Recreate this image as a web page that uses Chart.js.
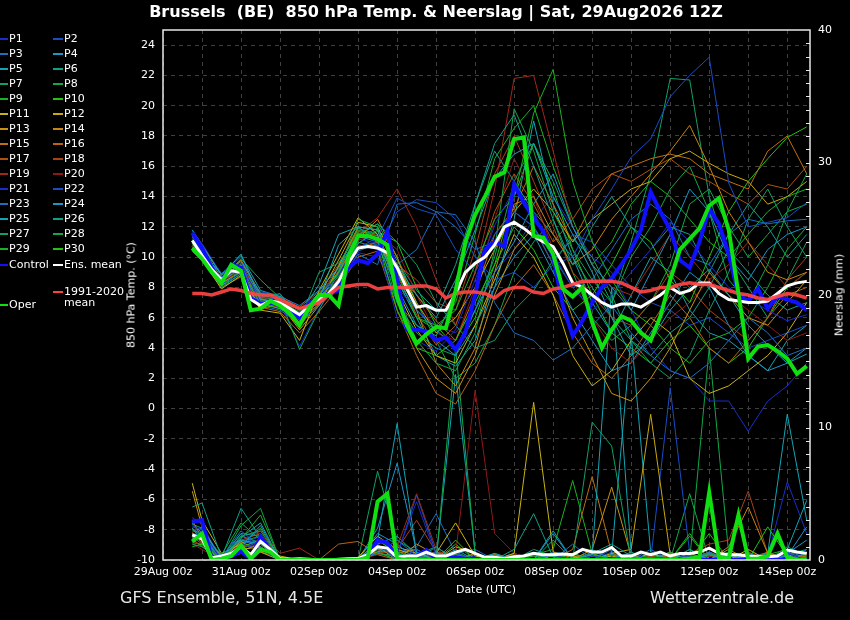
<!DOCTYPE html>
<html>
<head>
<meta charset="utf-8">
<title>Brussels 850 hPa Temp. & Neerslag</title>
<style>
  body { margin: 0; background: #000; width: 850px; height: 620px; overflow: hidden;
         font-family: "DejaVu Sans", sans-serif; color: #fff; }
  #wrap { position: relative; width: 850px; height: 620px; }
  #chart { position: absolute; left: 0; top: 0; }
  .txt { position: absolute; white-space: pre; }
  #title { left: 0; width: 872px; top: 2px; text-align: center; font-weight: bold; font-size: 16px; }
  .foot { top: 588px; font-size: 16px; color: #e8e8e8; }
  .axt { font-size: 11px; transform: translate(-50%, -50%) rotate(-90deg); }
  #xtitle { left: 486px; top: 589px; font-size: 11px; transform: translate(-50%, -50%); }
  .leg { position: absolute; height: 12px; line-height: 12px; font-size: 11px; white-space: pre; }
  .leg i { position: absolute; top: 5px; height: 2px; }
</style>
<script src="https://cdn.jsdelivr.net/npm/chart.js@4.4.1/dist/chart.umd.min.js"></script>
</head>
<body>
<div id="wrap">
  <canvas id="chart" width="850" height="620"></canvas>
  <div id="title" class="txt">Brussels  (BE)  850 hPa Temp. &amp; Neerslag | Sat, 29Aug2026 12Z</div>
  <div class="txt axt" style="left:131px;top:295px">850 hPa Temp. (°C)</div>
  <div class="txt axt" style="left:839px;top:295px">Neerslag (mm)</div>
  <div id="xtitle" class="txt">Date (UTC)</div>
  <div class="txt foot" style="left:120px">GFS Ensemble, 51N, 4.5E</div>
  <div class="txt foot" style="left:650px">Wetterzentrale.de</div>
  <div id="legend"></div>
</div>
<script>
// hours since 29Aug 00z
const hours6 = [18,
  24, 30, 36, 42, 48, 54, 60, 66, 72, 78, 84, 90, 96, 102, 108, 114,
  120, 126, 132, 138, 144, 150, 156, 162, 168, 174, 180, 186, 192, 198, 204, 210,
  216, 222, 228, 234, 240, 246, 252, 258, 264, 270, 276, 282, 288, 294, 300, 306,
  312, 318, 324, 330, 336, 342, 348, 354, 360, 366, 372, 378, 384, 390, 396];
const hours12 = [18, 24, 36, 48, 60, 72, 84, 96, 108, 120, 132, 144, 156, 168, 180, 192, 204,
  216, 228, 240, 252, 264, 276, 288, 300, 312, 324, 336, 348, 360, 372, 384, 396];

const xTicks = [0, 24, 48, 72, 96, 120, 144, 168, 192, 216, 240, 264, 288, 312, 336, 360, 384];
const xLabels = ['29Aug 00z', '', '31Aug 00z', '', '02Sep 00z', '', '04Sep 00z', '', '06Sep 00z', '',
  '08Sep 00z', '', '10Sep 00z', '', '12Sep 00z', '', '14Sep 00z'];
const tempTicks = [-10, -8, -6, -4, -2, 0, 2, 4, 6, 8, 10, 12, 14, 16, 18, 20, 22, 24];
const rainTicks = [0, 10, 20, 30, 40];

// main lines, 6-hourly
const controlTemp = [11.6,
  10.6, 9.3, 8.4, 9.5,   9.3, 7.3, 6.9, 7.0,   6.8, 6.4, 6.0, 7.0,   7.3, 7.6, 7.8, 9.3,
  9.8, 9.6, 10.2, 11.7,  8.5, 5.2, 5.2, 5.1,   4.5, 4.7, 3.9, 5.0,   7.5, 10.5, 11.0, 10.7,
  14.8, 13.6, 12.6, 11.7, 10.0, 6.8, 4.8, 5.8, 7.0, 8.0, 8.6, 9.5,   10.5, 11.8, 14.3, 13.0,
  11.8, 9.8, 9.3, 11.0,  13.2, 12.2, 10.2, 7.5, 7.1, 7.9, 6.6, 7.4,  7.2, 7.0, 6.5];
const meanTemp = [11.1,
  10.1, 9.2, 8.5, 9.1,   9.0, 7.2, 6.8, 7.1,   7.0, 6.6, 6.2, 6.8,   7.2, 7.6, 8.4, 9.6,
  10.6, 10.7, 10.6, 10.3, 9.3, 7.9, 6.7, 6.8,  6.5, 6.5, 7.6, 9.0,   9.6, 10.0, 10.8, 12.0,
  12.3, 11.9, 11.4, 11.0, 10.7, 9.6, 8.3, 8.0, 7.5, 7.0, 6.7, 6.9,   6.9, 6.7, 7.1, 7.5,
  8.0, 7.6, 7.8, 8.3,    8.3, 7.6, 7.2, 7.1,   7.0, 7.0, 7.1, 7.6,   8.1, 8.3, 8.4];
const operTemp = [10.6,
  9.9, 9.0, 8.3, 9.5,    9.1, 6.5, 6.6, 7.1,   6.8, 6.3, 5.5, 6.7,   7.5, 7.5, 6.8, 10.0,
  11.4, 11.4, 11.2, 10.8, 7.4, 5.5, 4.3, 4.9,  5.4, 5.3, 7.8, 11.0,  12.8, 14.0, 15.3, 15.6,
  17.8, 17.9, 11.4, 11.3, 10.2, 7.9, 7.4, 8.0, 5.7, 4.0, 5.2, 6.1,   5.8, 5.0, 4.5, 6.1,
  8.5, 10.5, 11.2, 11.9, 13.4, 13.9, 11.8, 7.6, 3.3, 4.1, 4.2, 3.8,  3.3, 2.3, 2.8];
const climTemp = [7.6,
  7.6, 7.5, 7.7, 7.9,    7.8, 7.6, 7.5, 7.5,   7.2, 6.9, 6.6, 6.8,   7.0, 7.5, 8.0, 8.1,
  8.2, 8.2, 7.9, 8.0,    8.0, 8.0, 8.1, 8.1,   7.9, 7.3, 7.6, 7.7,   7.7, 7.6, 7.3, 7.8,
  8.0, 8.0, 7.7, 7.6,    7.9, 8.0, 8.2, 8.4,   8.4, 8.4, 8.4, 8.3,   8.0, 7.7, 7.8, 8.0,
  8.0, 8.2, 8.3, 8.2,    8.2, 8.0, 7.8, 7.6,   7.5, 7.3, 7.2, 7.4,   7.6, 7.5, 7.3];

const controlRain = [2.9,
  3.0, 0.05, 0.1, 0.3,   0.65, 0.1, 1.75, 0.75, 0, 0, 0, 0,        0, 0, 0, 0,
  0, 0.3, 1.5, 1.3,      0.15, 0.2, 0.3, 0.75, 0.1, 0.1, 0.2, 0.1,  0.1, 0, 0, 0.05,
  0, 0.05, 0, 0,         0, 0.05, 0, 0,        0, 0, 0.05, 0,       0, 0, 0, 0.05,
  0, 0, 0, 0,            0, 0.05, 0, 0,        0, 0, 0, 0,          0.05, 0, 0];
const meanRain = [1.9,
  1.6, 0.15, 0.3, 0.5,   1.0, 0.4, 1.4, 0.8,   0.1, 0.05, 0.1, 0.05, 0, 0, 0.05, 0.1,
  0.1, 0.4, 1.0, 0.9,    0.2, 0.3, 0.3, 0.6,   0.3, 0.3, 0.6, 0.8,   0.5, 0.2, 0.2, 0.1,
  0.25, 0.3, 0.5, 0.4,   0.4, 0.45, 0.4, 0.8,  0.6, 0.6, 0.95, 0.3,  0.3, 0.6, 0.4, 0.6,
  0.3, 0.5, 0.5, 0.6,    0.9, 0.5, 0.4, 0.4,   0.3, 0.25, 0.25, 0.3, 0.75, 0.6, 0.5];
const operRain = [1.4,
  2.0, 0, 0.1, 0.3,      1.1, 0.1, 0.8, 0.6,   0, 0, 0, 0,           0, 0, 0, 0,
  0, 0.2, 4.4, 5.0,      0.1, 0, 0, 0,         0, 0, 0, 0,           0, 0, 0, 0,
  0, 0, 0, 0,            0, 0, 0, 0,           0, 0, 0, 0,           0, 0, 0, 0,
  0, 0, 0.1, 0.2,        5.1, 0.2, 0.1, 3.4,   0.1, 0.1, 0.3, 2.0,   0.2, 0, 0];

// ensemble members, 12-hourly (hours12)
const tP1 = [11.2,10.4,8.3,9.6,7.0,6.9,6.3,7.4,8.8,11.2,10.9, 6.0,4.5,3.8,5.2,8.5,12.1,14.5,13.0,10.2,8.0,6.5, 7.5,9.0,10.5,12.3,11.0,9.5,8.0,7.2,6.5,5.8,6.2];
const tP2 = [10.8,10.0,8.6,9.2,7.4,7.2,6.5,7.0,8.5,10.6,11.3, 13.9,13.2,12.8,10.5,9.0,11.5,13.0,12.0,9.5,10.0,12.5, 14.5,16.6,17.8,20.6,22.0,23.2,14.9,12.0,12.3,12.6,13.6];
const tP3 = [11.5,10.5,8.2,9.0,6.8,6.5,5.6,6.8,8.2,10.2,9.5, 13.5,13.6,13.0,12.8,11.0,7.0,5.0,4.5,3.2,4.0,5.5, 6.8,5.0,3.5,2.5,2.0,3.0,4.5,6.0,5.0,3.5,4.0];
const tP4 = [10.6,10.2,8.9,9.7,7.6,7.4,6.8,7.8,9.3,11.4,11.0, 8.5,6.5,5.2,4.0,6.5,9.0,11.0,13.5,15.5,12.0,9.5, 8.0,6.5,9.0,11.5,14.5,13.0,10.0,8.5,10.5,11.5,12.0];
const tP5 = [11.8,10.8,8.8,10.2,7.2,7.0,6.0,7.2,10.8,12.0,11.8, 9.5,7.5,6.0,8.5,11.8,15.2,16.8,17.5,14.0,11.5,9.0, 6.0,3.5,4.5,6.5,8.0,9.2,7.5,5.5,4.2,3.0,3.6];
const tP6 = [11.0,10.3,8.4,9.4,7.1,6.9,6.1,7.3,8.9,11.0,10.6, 7.0,5.5,4.8,7.5,13.5,17.5,19.4,16.0,12.5,9.5,12.0, 14.0,12.0,10.5,12.0,11.5,9.0,11.5,13.5,12.0,10.0,11.5];
const tP7 = [10.5,9.9,8.0,8.9,7.3,7.6,5.8,9.0,9.6,11.5,12.2, 11.0,9.5,7.0,5.5,4.0,4.5,6.5,7.8,9.8,11.2,10.0, 7.5,4.5,3.0,2.0,3.5,6.5,9.0,12.5,14.5,12.0,10.0];
const tP8 = [11.3,10.7,8.5,9.9,8.5,7.3,3.9,6.5,9.0,12.5,12.0, 7.5,4.5,3.0,2.5,5.0,10.5,19.8,17.0,13.0,10.5,8.5, 7.0,10.0,12.0,14.5,16.0,13.0,8.5,7.0,9.5,13.0,15.5];
const tP9 = [10.9,10.1,8.7,9.3,7.5,7.0,6.4,7.6,8.7,10.9,11.8, 9.0,6.0,5.5,6.5,9.5,12.5,14.0,19.5,22.4,15.0,11.0, 8.5,6.5,5.5,4.0,3.0,4.5,5.0,6.0,8.0,10.5,12.0];
const tP10 = [11.1,10.5,8.1,9.1,6.9,6.6,5.9,7.1,9.1,11.6,11.2, 6.5,4.0,3.5,4.5,7.0,9.5,12.0,10.5,8.0,6.5,7.5, 9.5,12.0,11.0,8.5,7.0,10.0,13.0,15.0,16.5,17.9,18.6];
const tP11 = [10.4,9.8,7.9,8.8,6.5,6.3,4.5,7.8,10.2,12.6,11.5, 7.8,5.2,3.5,3.0,5.5,8.5,11.5,10.0,7.5,3.5,1.5, 2.5,4.5,6.0,5.0,2.0,1.0,1.5,2.5,3.5,5.0,7.0];
const tP12 = [11.4,10.6,8.6,9.5,7.0,6.8,6.0,7.4,9.8,12.3,12.0, 9.5,7.0,5.0,6.0,8.0,10.5,13.0,14.5,13.0,11.0,12.5, 13.5,14.5,15.0,16.5,17.0,16.2,15.5,15.0,13.5,14.0,15.0];
const tP13 = [10.7,10.0,8.3,9.0,6.6,6.9,5.2,6.8,9.4,12.0,11.8, 8.0,4.0,2.0,1.0,3.5,7.5,10.5,12.0,9.5,6.0,3.5, 1.0,0.5,2.0,4.0,6.5,9.0,7.5,6.0,5.5,7.0,8.5];
const tP14 = [11.0,10.2,8.4,9.3,7.2,7.0,6.6,7.2,9.0,11.2,12.5, 10.0,6.5,3.0,1.5,4.0,9.0,13.5,14.0,11.5,9.5,10.5, 12.5,14.0,15.5,17.0,18.7,16.0,13.0,11.0,9.0,8.5,9.0];
const tP15 = [11.6,10.8,8.8,9.8,7.6,7.1,5.5,6.9,8.4,10.5,11.0, 9.0,7.5,5.8,4.5,7.5,11.5,13.2,16.0,13.5,11.0,13.5, 15.5,16.0,16.5,16.8,16.5,15.5,15.0,14.5,17.0,18.0,15.5];
const tP16 = [10.5,9.8,8.0,8.7,6.7,6.4,5.0,6.4,8.0,10.0,10.4, 6.5,3.5,1.0,0.3,2.5,5.5,8.0,9.5,7.5,5.0,3.0, 2.0,3.5,5.5,7.5,6.0,4.0,3.0,4.5,6.0,7.5,8.0];
const tP17 = [11.2,10.4,8.5,9.6,7.3,7.3,6.7,7.7,9.5,11.7,11.4, 8.8,6.2,4.2,5.5,9.0,13.0,15.5,13.5,11.0,12.5,14.5, 15.5,15.0,15.8,16.5,15.5,15.0,14.2,13.5,14.8,14.5,16.0];
const tP18 = [10.8,10.1,8.2,9.1,6.9,6.7,6.2,7.0,8.6,10.7,11.0, 9.5,8.5,7.0,6.5,10.5,15.5,18.0,15.0,12.0,9.0,7.5, 6.0,5.5,7.0,9.0,8.0,6.5,5.5,4.5,6.0,8.5,10.0];
const tP19 = [11.4,10.6,8.6,9.4,7.1,6.8,5.9,7.3,8.9,11.6,12.6, 14.5,12.0,8.5,5.5,9.0,14.5,21.8,22.0,17.0,12.0,9.5, 8.0,7.5,9.5,11.5,10.0,8.5,9.5,11.0,9.5,8.0,9.0];
const tP20 = [10.9,10.2,8.3,9.2,7.0,7.0,6.3,7.5,9.2,11.1,11.6, 10.5,7.5,5.0,4.5,8.0,12.5,16.5,14.0,10.5,8.5,6.0, 4.0,3.0,4.5,6.0,7.0,8.5,7.5,6.5,5.5,4.5,5.0];
const tP21 = [11.7,10.9,8.9,10.0,7.4,6.9,4.1,6.6,8.3,10.3,10.0, 8.0,6.5,5.5,5.0,6.5,9.0,10.5,12.5,14.0,12.0,10.0, 9.0,6.5,4.0,2.5,2.0,0.5,0.5,-1.5,0.5,1.5,3.0];
const tP22 = [11.0,10.3,8.4,9.4,7.7,7.5,6.6,7.5,9.0,10.8,10.5, 13.0,13.8,13.6,12.5,10.0,8.5,9.0,8.0,9.5,11.5,11.0, 9.5,8.0,7.0,6.5,5.5,6.0,5.0,4.0,4.5,5.0,5.5];
const tP23 = [11.3,10.6,8.6,9.6,7.2,7.1,6.3,7.0,8.6,10.4,10.9, 9.5,10.5,13.0,12.0,10.5,11.0,13.0,12.0,10.0,8.0,8.5, 10.5,12.5,13.5,12.5,10.0,9.5,11.5,12.5,12.2,12.4,12.5];
const tP24 = [10.6,10.0,8.1,8.9,7.0,6.6,5.7,6.8,8.5,10.6,10.8, 8.0,5.5,4.5,3.5,5.5,8.0,10.0,11.5,9.0,6.5,4.5, 2.5,3.0,5.0,7.0,9.0,8.0,5.5,3.5,2.5,3.0,4.0];
const tP25 = [11.6,10.7,8.9,10.1,7.8,7.4,6.2,8.2,11.5,12.0,11.0, 8.5,6.0,3.5,2.8,4.5,8.0,12.5,19.0,13.5,10.0,7.0, 5.0,7.5,10.0,9.0,6.5,5.0,4.5,3.5,2.5,4.5,5.5];
const tP26 = [10.8,10.1,8.2,9.2,6.9,7.1,6.0,7.1,8.8,11.3,11.9, 9.8,7.8,6.5,9.5,13.5,17.0,15.0,13.0,11.5,10.0,8.0, 6.0,4.5,3.5,5.0,6.0,8.0,10.5,9.0,7.5,6.5,7.0];
const tP27 = [11.2,10.4,8.5,9.5,7.3,6.8,5.4,7.4,9.3,11.9,11.5, 7.0,5.0,4.0,3.5,6.5,10.0,15.0,17.5,15.0,12.0,9.5, 7.0,11.0,15.5,21.8,21.7,14.0,10.0,8.0,6.0,8.5,11.0];
const tP28 = [11.0,10.2,8.3,9.3,7.0,7.2,6.5,7.6,9.0,11.4,12.2, 10.0,7.0,4.5,2.0,3.0,5.5,9.0,11.0,12.5,9.0,6.0, 4.5,5.5,7.0,9.5,13.5,14.5,12.0,10.0,11.5,13.0,13.5];
const tP29 = [10.9,10.3,8.6,9.0,7.2,7.3,6.6,7.2,9.4,11.8,11.4, 8.5,6.0,5.2,7.0,11.5,16.5,18.5,20.0,16.0,12.5,9.5, 11.0,13.5,15.0,14.0,12.5,11.0,10.0,11.5,13.0,14.0,14.5];
const tP30 = [11.4,10.5,8.4,9.8,7.5,6.7,5.9,6.9,8.4,10.9,11.7, 11.0,8.0,5.5,4.0,6.0,9.5,14.0,17.5,14.5,10.5,7.5, 5.0,4.0,3.0,4.5,5.5,4.0,3.0,4.0,6.0,8.0,9.0];

const rP1 = [2.6,2.2,0,1.2,0.8,0,0,0,0,0,1.0, 0.5,4.4,0.3,0,0,0,0.2,0,0,0,0.3, 0,0.5,0,0,0.4,0,0,0.2,0,0.5,0];
const rP2 = [2.9,1.5,0,0.8,1.5,0,0,0,0,0,1.2, 0,0.8,0,0,0,0,0,0,0.4,0,0, 0,0,0,0,0,0,0,0,0.3,0,0.8];
const rP3 = [2.0,1.8,0.2,2.2,1.0,0,0,0,0,0.2,0.5, 1.5,0.3,0,0.5,0,0,0.3,0,0,1.2,0, 0.8,0,0.2,0,0,0.6,0,0,0,0.4,0.6];
const rP4 = [1.5,2.5,0,1.0,2.6,0,0,0,0,0,2.0, 1.2,0,0.6,0,0,0.5,0,0,2.0,0,0, 0.4,0,0,0.5,0,0,0.3,0,0,0.3,2.5];
const rP5 = [2.4,1.8,0.3,1.5,1.2,0,0,0,0,0,1.5, 10.3,0.5,0,0.8,0,0,0,0.5,0,0,0.4, 20.5,0.5,0,0.2,0,0.4,0,0.5,0,0.8,4.5];
const rP6 = [4.0,4.3,0.2,2.0,1.8,0.1,0,0,0,0,0.8, 0.5,0,1.0,0,0,0,0.8,3.5,0.2,0,0.5, 1.2,0.3,0,0,0.8,0,0,0,0.4,0,0.5];
const rP7 = [1.2,1.0,0,1.8,2.2,0,0,0,0,0,0.5, 0.3,0,0,0.4,0,0,0,0,1.5,0,10.4, 8.6,0,0.2,0,0,0.5,0,0,0,0.3,0];
const rP8 = [2.2,2.0,0.4,2.8,1.5,0,0,0,0,0,1.0, 0.6,0.2,0,16.0,0.5,0,0,0.3,0,0.5,0, 0.4,0.2,0,0.6,0,16.0,0.5,0,0,1.0,0.3];
const rP9 = [1.8,1.5,0,1.6,3.4,0,0,0,0,0,0.6, 0,0,0.3,0,0,0,0,0.4,0.8,6.0,0.5, 0,0,0.4,0,2.0,0,0,0.3,0,0,0.2];
const rP10 = [1.0,1.2,0,1.0,1.5,0,0,0,0,0,1.5, 0.5,0,0,1.5,0,0,0,0,0.5,0,0.3, 0,0.5,0,0,1.8,0,0.5,0,2.5,0.3,0];
const rP11 = [5.8,3.0,0.5,1.2,0.8,0.3,0,0,0,0.2,1.8, 0.8,0.3,0.5,2.8,0.3,0,0.5,11.9,0.6,0.2,0, 0.3,0,0.5,0,0.4,0,0,0.8,0,0,0.5];
const rP12 = [2.8,2.0,0.3,0.8,1.0,0,0,0,0,0,0.6, 1.0,0.5,0,1.0,0.5,0,0,0.5,0,0.3,0, 0.5,0.8,11.0,0.4,0,0.6,0,0,0.3,0,0];
const rP13 = [5.2,2.5,0,1.4,0.6,0,0,0,0,0,1.0, 0,1.2,0.4,0,0.5,0,0,0,0.4,0,0.8, 5.5,0.3,0,0.6,0,0,0.8,0,0,0.4,0];
const rP14 = [3.0,1.6,0,0.7,1.2,0,0,0,0,0,0.8, 0.5,0.8,0,0.4,0,0.4,0,0,0,0.5,0, 0,0.4,0,0,0.5,0,1.0,4.0,0.5,0,0.3];
const rP15 = [2.4,1.4,0,1.1,0.9,0,0,0,0,0,0.5, 0.3,0,0.6,0,0.2,0,0,0.3,0,0.8,6.3, 0.5,0,0,0.3,0,0.5,0,0,0,0.5,0];
const rP16 = [1.8,1.2,0,0.5,0.6,0.2,0,0,1.2,1.4,0.4, 0,0.5,0,0,0,0.3,0,0,0.5,0,0, 0,0.3,0,0.4,0,0,0.3,0,0.6,0,0];
const rP17 = [1.6,1.0,0,0.9,1.6,0,0,0,0,0,0.7, 0.4,0,0.5,0.2,0,0,0.4,0,0,0,0.5, 0,0,0.3,0,0,0.4,0,0.6,0,0,0.4];
const rP18 = [2.1,1.4,0,1.5,2.0,0,0,0,0,0,0.5, 0.8,3.0,0.6,0.4,0,0,0,0,0,0.3,0, 0.4,0,0,0,0.5,1.2,1.5,5.2,0.5,0,0];
const rP19 = [1.4,1.1,0,1.3,2.2,0.5,0.9,0,0,0,0.6, 1.0,5.0,0.8,0,0,0.2,0,0,0,0,0.3, 0,0,0.5,0,0,0,0,0.4,0,0.3,0];
const rP20 = [1.2,0.8,0,1.0,1.2,0,0,0,0,0,0.4, 0.3,0.4,0,0.5,12.8,2.0,0.5,0,0,0.4,0, 0,0.5,0,0,0,0.3,0,0,0.4,0,0];
const rP21 = [3.2,2.7,0,1.6,1.0,0,0,0,0,0,1.4, 0.8,0.5,0.4,0,0.3,0,0,0,0.4,0,0, 0,0.5,0,0,0.4,0,0,0.5,0.3,5.9,2.0];
const rP22 = [2.5,2.3,0,1.2,1.8,0,0,0,0,0,0.8, 0.3,4.9,0.5,0,0,0,0.5,0,0,0,0, 0.6,0,0,13.0,0.5,0,0,0,0.4,0,0.6];
const rP23 = [1.9,1.7,0,2.0,0.6,0,0,0,0,0,1.0, 0.6,1.0,3.5,0.5,0.8,0,0,0,0.6,0.4,0, 0,0,0.8,0,0.3,0,0.5,0,0,0.6,0];
const rP24 = [1.6,2.0,0.2,1.3,1.4,0,0,0,0,0,2.4, 7.3,0.6,0,0.3,0,0,0.5,0,0,0,0.6, 0.2,0,0,0.5,0,0.3,0.4,0,0,0.5,1.5];
const rP25 = [2.3,1.9,0,1.7,2.8,0,0,0,0,0,0.9, 0.4,0.3,0,14.0,0.5,0,0,0,2.2,0,0, 0.4,17.0,0.6,0,0.4,0,0,0,0.5,11.0,3.0];
const rP26 = [2.7,2.4,0.2,3.9,1.7,0,0,0,0,0,1.2, 1.8,0.4,1.0,0,0,0.4,0,0.8,0.3,0,0.4, 0,0.6,0,0,0.8,0,0,0.3,0.5,0,0.8];
const rP27 = [2.0,1.3,0,1.8,1.3,0,0,0,0,0,6.7, 1.5,0.6,0,0,0.4,0,0.3,0,0,0,0.8, 0,0,0,0.5,0,0.4,0,0,0.6,0,0];
const rP28 = [1.7,1.6,0,2.6,3.9,0,0,0,0,0,0.8, 0.5,0,0,0.6,0,0,0,0.4,0,0,0, 0,0.5,0,0,5.0,0,0.6,0,0,0.4,0.8];
const rP29 = [1.3,1.2,0,1.4,1.8,0,0,0,0,0,0.6, 0,0.3,0.5,0.4,0,0.5,0,0,0.3,0,0.4, 0,0,0.5,0,0,0.3,0,0,0.4,0.8,0];
const rP30 = [2.0,1.7,0,1.2,2.4,0,0,0,0,0,1.1, 0.4,0,0,1.2,0,0,0,0,0,0.5,0, 0,0.3,0,0.4,0,2.0,0,0,0.3,0,0];

const memberNames = ['P1','P2','P3','P4','P5','P6','P7','P8','P9','P10','P11','P12','P13','P14','P15',
  'P16','P17','P18','P19','P20','P21','P22','P23','P24','P25','P26','P27','P28','P29','P30'];
const memberTemp = [tP1,tP2,tP3,tP4,tP5,tP6,tP7,tP8,tP9,tP10,tP11,tP12,tP13,tP14,tP15,
  tP16,tP17,tP18,tP19,tP20,tP21,tP22,tP23,tP24,tP25,tP26,tP27,tP28,tP29,tP30];
const memberRain = [rP1,rP2,rP3,rP4,rP5,rP6,rP7,rP8,rP9,rP10,rP11,rP12,rP13,rP14,rP15,
  rP16,rP17,rP18,rP19,rP20,rP21,rP22,rP23,rP24,rP25,rP26,rP27,rP28,rP29,rP30];

// P21..P30 reuse the colours of P1..P10
const baseColors = ['#1c2cc8', '#1a4cc4', '#1a6ec4', '#1a96c8', '#12a4b4', '#10a088', '#10a064', '#10a848',
  '#18b420', '#20c410', '#c8b410', '#c8a810', '#c89410', '#c88410', '#c07010', '#b86410',
  '#b05010', '#a84018', '#a02818', '#901818'];
const memberColors = memberNames.map((n, i) => baseColors[i < 20 ? i : i - 20]);

const CONTROL = '#1010ff', MEAN = '#ffffff', OPER = '#10e010', CLIM = 'rgba(255,68,68,0.92)';

function pts(hrs, vals) {
  return vals.map((v, i) => ({ x: hrs[i], y: v }));
}

const datasets = [];
memberTemp.forEach((vals, i) => {
  datasets.push({ label: memberNames[i], data: pts(hours12, vals), borderColor: memberColors[i],
    borderWidth: 1, yAxisID: 'y', order: 10 });
});
memberRain.forEach((vals, i) => {
  datasets.push({ label: memberNames[i] + ' rain', data: pts(hours12, vals), borderColor: memberColors[i],
    borderWidth: 1, yAxisID: 'y2', order: 10 });
});
datasets.push({ label: 'Control', data: pts(hours6, controlTemp), borderColor: CONTROL, borderWidth: 4, yAxisID: 'y', order: 4 });
datasets.push({ label: 'Control rain', data: pts(hours6, controlRain), borderColor: CONTROL, borderWidth: 4, yAxisID: 'y2', order: 4 });
datasets.push({ label: 'Ens. mean', data: pts(hours6, meanTemp), borderColor: MEAN, borderWidth: 3, yAxisID: 'y', order: 3 });
datasets.push({ label: 'Ens. mean rain', data: pts(hours6, meanRain), borderColor: MEAN, borderWidth: 3, yAxisID: 'y2', order: 3 });
datasets.push({ label: '1991-2020 mean', data: pts(hours6, climTemp), borderColor: CLIM, borderWidth: 3.5, yAxisID: 'y', order: 2 });
datasets.push({ label: 'Oper', data: pts(hours6, operTemp), borderColor: OPER, borderWidth: 4, yAxisID: 'y', order: 1 });
datasets.push({ label: 'Oper rain', data: pts(hours6, operRain), borderColor: OPER, borderWidth: 4, yAxisID: 'y2', order: 1 });

// white frame round the plot plus the small precipitation ticks on the right
const framePlugin = {
  id: 'frame',
  afterDraw(chart) {
    const { ctx, chartArea: a } = chart;
    const r = chart.scales.y2;
    ctx.save();
    ctx.strokeStyle = '#e6e6e6';
    ctx.lineWidth = 1.5;
    ctx.strokeRect(a.left, a.top, a.right - a.left, a.bottom - a.top);
    ctx.lineWidth = 1;
    ctx.beginPath();
    for (let v = 1; v < 40; v++) {
      const y = Math.round(r.getPixelForValue(v)) + 0.5;
      ctx.moveTo(a.right - 4, y);
      ctx.lineTo(a.right, y);
    }
    ctx.stroke();
    ctx.restore();
  }
};

Chart.defaults.font.family = '"DejaVu Sans", sans-serif';
Chart.defaults.color = '#ffffff';

const gridStyle = { color: '#404040', lineWidth: 1, drawTicks: false };
const tickFont = { size: 11 };

new Chart(document.getElementById('chart').getContext('2d'), {
  type: 'line',
  data: { datasets },
  options: {
    responsive: false,
    animation: false,
    events: [],
    layout: { padding: { top: 30, left: 0, right: 0, bottom: 0 } },
    elements: { point: { radius: 0 }, line: { tension: 0 } },
    plugins: { legend: { display: false }, tooltip: { enabled: false } },
    scales: {
      x: {
        type: 'linear', min: 0, max: 398,
        afterBuildTicks: s => { s.ticks = xTicks.map(v => ({ value: v })); },
        afterFit: s => { s.height = 60; },
        ticks: { font: tickFont, padding: 6, maxRotation: 0, autoSkip: false,
          callback: v => xLabels[xTicks.indexOf(v)] },
        grid: gridStyle,
        border: { display: false, dash: [4, 4] }
      },
      y: {
        position: 'left', min: -10, max: 25,
        afterBuildTicks: s => { s.ticks = tempTicks.map(v => ({ value: v })); },
        afterFit: s => { s.width = 163; },
        ticks: { font: tickFont, padding: 8 },
        grid: gridStyle,
        border: { display: false, dash: [4, 4] }
      },
      y2: {
        position: 'right', min: 0, max: 40,
        afterBuildTicks: s => { s.ticks = rainTicks.map(v => ({ value: v })); },
        afterFit: s => { s.width = 40; },
        ticks: { font: tickFont, padding: 8 },
        grid: { drawOnChartArea: false, drawTicks: false },
        border: { display: false }
      }
    }
  },
  plugins: [framePlugin]
});

// legend, two columns like the original
const legend = document.querySelector('#legend');
function legendItem(name, color, col, yc) {
  const el = document.createElement('div');
  el.className = 'leg';
  el.style.top = (yc - 6) + 'px';
  el.style.left = (col === 0 ? 9 : 64) + 'px';
  el.textContent = name;
  const sw = document.createElement('i');
  sw.style.background = color;
  sw.style.left = (col === 0 ? -9 : -11) + 'px';
  sw.style.width = (col === 0 ? 8 : 10) + 'px';
  el.appendChild(sw);
  legend.appendChild(el);
  return el;
}
memberNames.forEach((n, i) => legendItem(n, memberColors[i], i % 2, 39 + Math.floor(i / 2) * 15));
legendItem('Control', CONTROL, 0, 265);
legendItem('Ens. mean', MEAN, 1, 265);
legendItem('1991-2020\nmean', '#ff4040', 1, 292).style.lineHeight = '11px';
legendItem('Oper', OPER, 0, 305);
</script>
</body>
</html>
